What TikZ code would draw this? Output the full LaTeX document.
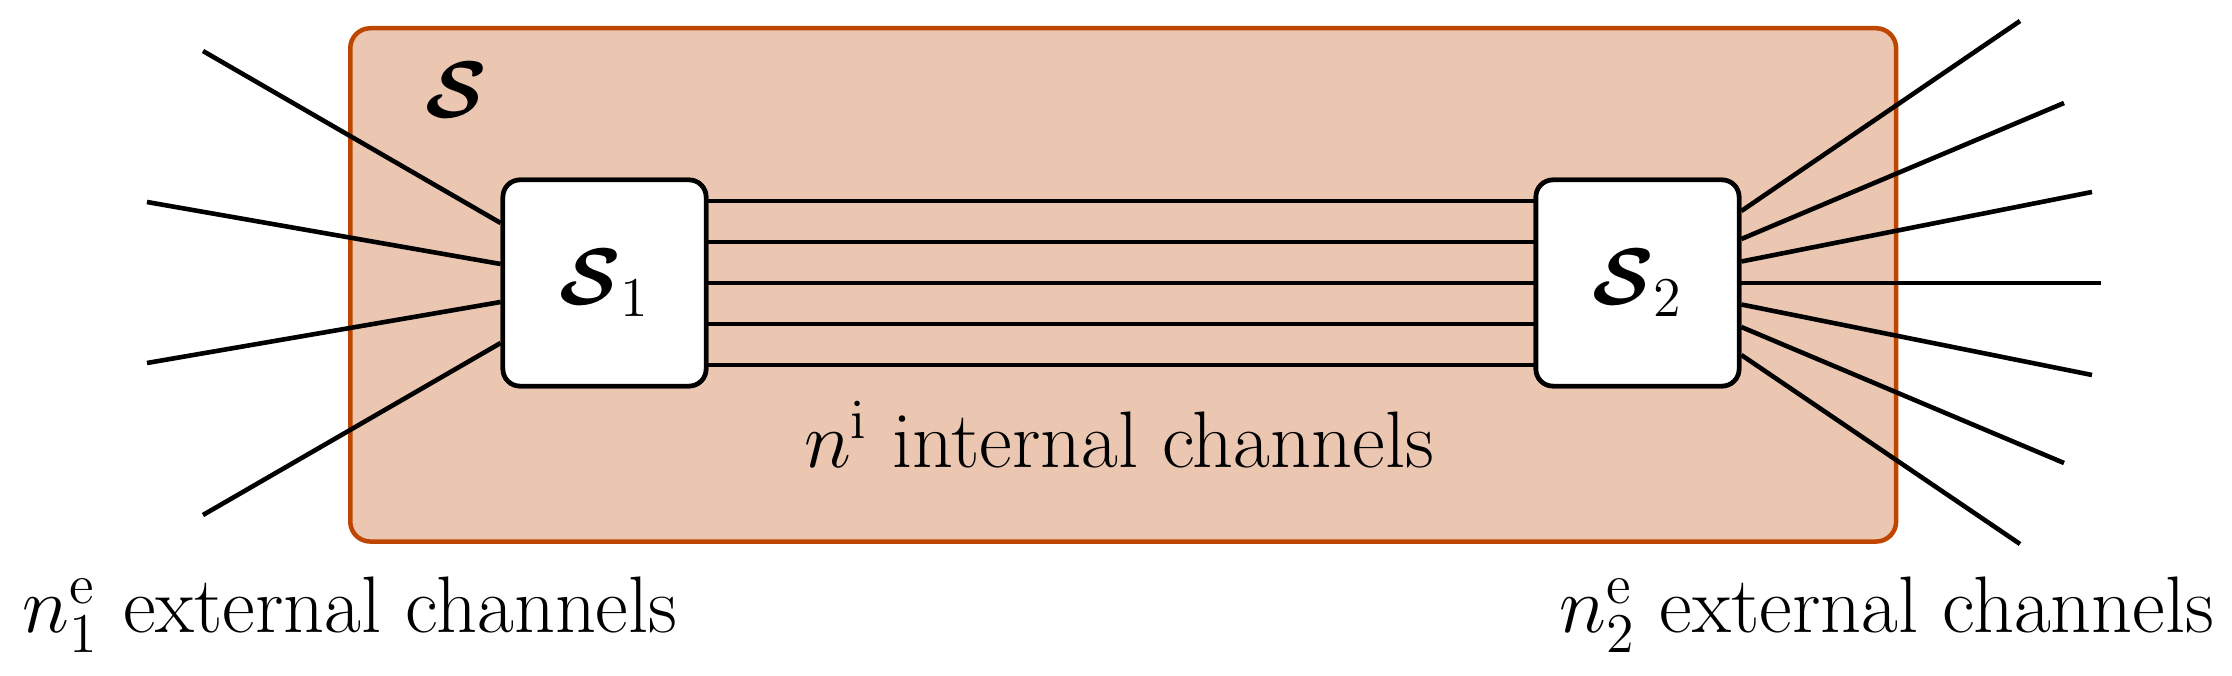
\RequirePackage{fix-cm}
\documentclass[tikz,border=0pt]{standalone}
\usepackage{amsmath,bm}
\usetikzlibrary{calc}
\definecolor{sysborder}{RGB}{190,70,0}
\tikzset{
  wire/.style={line width=0.046cm, black},
  subsys/.style={draw=black, fill=white, line width=0.046cm, rounded corners=0.17cm,
    minimum width=2.03cm, minimum height=2.06cm, inner sep=0pt},
  sysbox/.style={draw=sysborder, fill=sysborder!30, line width=0.045cm, rounded corners=0.2cm},
  lbl/.style={inner sep=0pt}
}
\begin{document}
\begin{tikzpicture}[x=0.01cm, y=-0.01cm, font=\fontsize{22.8}{27}\selectfont]
\useasboundingbox (0,0) rectangle (2232,676);
% outer system
\node[sysbox, minimum width=15.45cm, minimum height=5.13cm, anchor=north west] (sys) at (348,26) {};
\node[lbl] (slabel) at (456,90) {$\bm{\mathcal{S}}$};
\coordinate (c1) at (604.5,283);
\coordinate (c2) at (1637.5,283);
% left external ends
\coordinate (l1) at (203,51);
\coordinate (l2) at (147,202);
\coordinate (l3) at (147,363);
\coordinate (l4) at (203,515);
% right external ends
\coordinate (r1) at (2020,21);
\coordinate (r2) at (2064,103);
\coordinate (r3) at (2092,192);
\coordinate (r4) at (2101,283);
\coordinate (r5) at (2092,375);
\coordinate (r6) at (2064,463);
\coordinate (r7) at (2020,544);
\node[subsys] (S1) at (c1) {$\bm{\mathcal{S}}_1$};
\node[subsys] (S2) at (c2) {$\bm{\mathcal{S}}_2$};
% external channels, left
\foreach \e/\dy in {l1/-60, l2/-19, l3/19, l4/60}
  \draw[wire] (\e) -- ($(S1.west)+(0,\dy)$);
% external channels, right
\foreach \e/\dy in {r1/-72, r2/-44, r3/-21.5, r4/0, r5/21.5, r6/44, r7/72}
  \draw[wire] ($(S2.east)+(0,\dy)$) -- (\e);
% internal channels
\foreach \dy in {-82,-41,0,41,82}
  \draw[wire] ($(S1.east)+(0,\dy)$) -- ($(S2.west)+(0,\dy)$);
% redraw subsystems on top
\node[subsys] at (c1) {$\bm{\mathcal{S}}_1$};
\node[subsys] at (c2) {$\bm{\mathcal{S}}_2$};
% labels
\node[lbl, anchor=base] (intl) at (1119,468) {$n^{\mathrm{i}}$ internal channels};
\node[lbl, anchor=base west] (ext1) at (22,633) {$n_1^{\mathrm{e}}$ external channels};
\node[lbl, anchor=base east] (ext2) at (2215,633) {$n_2^{\mathrm{e}}$ external channels};
\end{tikzpicture}
\end{document}
